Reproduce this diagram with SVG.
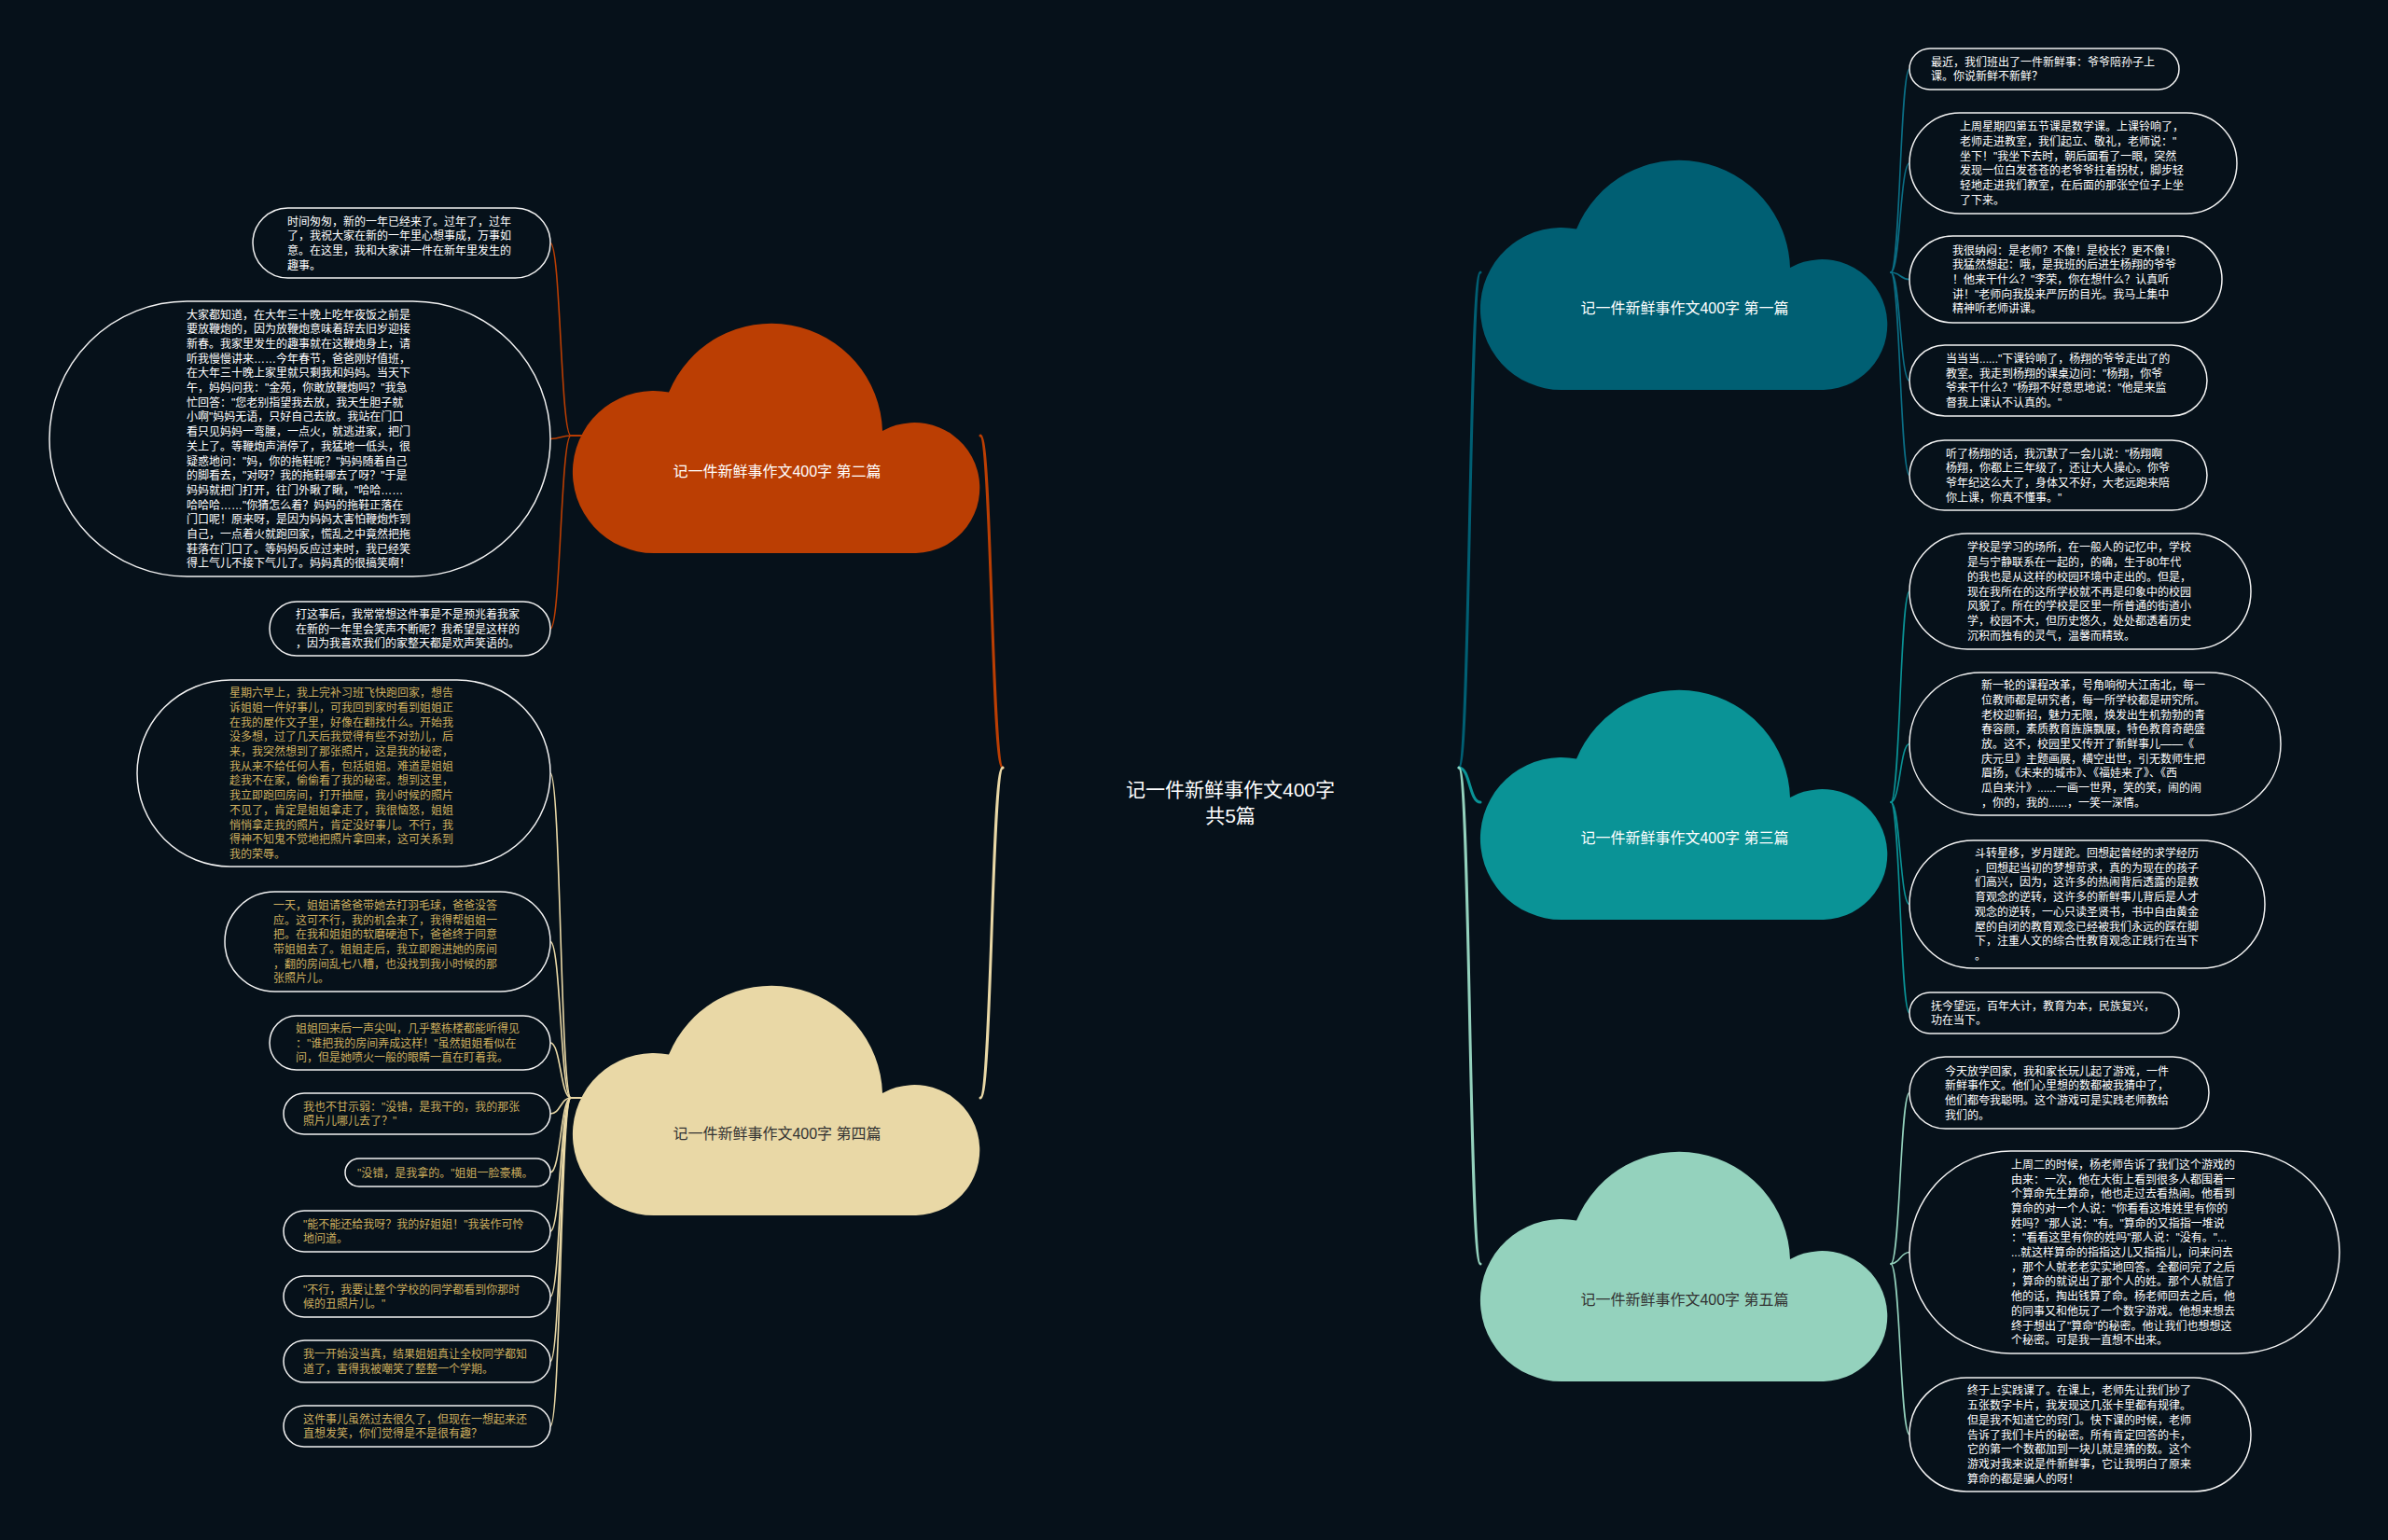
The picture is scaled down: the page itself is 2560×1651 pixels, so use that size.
<svg xmlns="http://www.w3.org/2000/svg" xmlns:xlink="http://www.w3.org/1999/xlink" width="2560" height="1651" viewBox="0 0 2560 1651">
<style>
.bx{fill:#06111a;stroke:#f2f2f2;stroke-width:1.5}
.t{font-family:"Liberation Sans","Noto Sans CJK SC",sans-serif;font-size:12px;fill:#ffffff}
.g{fill:#cdae5e}
.cl{font-family:"Liberation Sans","Noto Sans CJK SC",sans-serif;font-size:16px;text-anchor:middle}
.trunk{fill:none;stroke-width:3;stroke-linecap:round}
.br{fill:none;stroke-width:1.6;stroke-linecap:round}
</style>
<defs>
<path id="cloud" d="M87,250 A87,87 0 1 1 103,77.5 A119,119 0 0 1 332,119 A70,70 0 1 1 368,250 Z"/>
</defs>
<rect width="2560" height="1651" fill="#06111a"/>

<g id="connectors">
<path class="trunk" stroke="#BB3E03" d="M1075,823 C1063,823 1063,467 1051,467"/>
<path class="trunk" stroke="#E9D8A6" d="M1075,823 C1063,823 1063,1177 1051,1177"/>
<path class="trunk" stroke="#005F73" d="M1564,823 C1576,823 1575,292 1587,292"/>
<path class="trunk" stroke="#0A9396" d="M1564,823 C1576,823 1575,860 1587,860"/>
<path class="trunk" stroke="#94D2BD" d="M1564,823 C1576,823 1575,1355 1587,1355"/>
<g stroke="#BB3E03">
<path class="br" d="M624,467 L612,467 C601,467 601,260.5 590,260.5"/>
<path class="br" d="M624,467 L612,467 C601,467 601,470.5 590,470.5"/>
<path class="br" d="M624,467 L612,467 C601,467 601,674 590,674"/>
</g>
<g stroke="#E9D8A6">
<path class="br" d="M624,1177 L612,1177 C601,1177 601,829 590,829"/>
<path class="br" d="M624,1177 L612,1177 C601,1177 601,1009.5 590,1009.5"/>
<path class="br" d="M624,1177 L612,1177 C601,1177 601,1118 590,1118"/>
<path class="br" d="M624,1177 L612,1177 C601,1177 601,1194 590,1194"/>
<path class="br" d="M624,1177 L612,1177 C601,1177 601,1257 590,1257"/>
<path class="br" d="M624,1177 L612,1177 C601,1177 601,1320 590,1320"/>
<path class="br" d="M624,1177 L612,1177 C601,1177 601,1390 590,1390"/>
<path class="br" d="M624,1177 L612,1177 C601,1177 601,1459.5 590,1459.5"/>
<path class="br" d="M624,1177 L612,1177 C601,1177 601,1529 590,1529"/>
</g>
<g stroke="#0B6F86">
<path class="br" d="M2027,292 C2037,292 2037,74 2047,74"/>
<path class="br" d="M2027,292 C2037,292 2037,175 2047,175"/>
<path class="br" d="M2027,292 C2037,292 2037,299.5 2047,299.5"/>
<path class="br" d="M2027,292 C2037,292 2037,408 2047,408"/>
<path class="br" d="M2027,292 C2037,292 2037,509.5 2047,509.5"/>
</g>
<g stroke="#0A9396">
<path class="br" d="M2027,860 C2037,860 2037,634 2047,634"/>
<path class="br" d="M2027,860 C2037,860 2037,797.5 2047,797.5"/>
<path class="br" d="M2027,860 C2037,860 2037,969.5 2047,969.5"/>
<path class="br" d="M2027,860 C2037,860 2037,1086 2047,1086"/>
</g>
<g stroke="#94D2BD">
<path class="br" d="M2027,1355 C2037,1355 2037,1171.5 2047,1171.5"/>
<path class="br" d="M2027,1355 C2037,1355 2037,1342.5 2047,1342.5"/>
<path class="br" d="M2027,1355 C2037,1355 2037,1538 2047,1538"/>
</g>
</g>

<g id="root">
<text font-family="&quot;Liberation Sans&quot;,&quot;Noto Sans CJK SC&quot;,sans-serif" font-size="21" fill="#ffffff" text-anchor="middle"><tspan x="1319" y="854">记一件新鲜事作文400字</tspan><tspan x="1319" y="882">共5篇</tspan></text>
</g>

<g id="cloud1"><use xlink:href="#cloud" x="1587" y="168" fill="#005F73"/><text class="cl" x="1806" y="336" fill="#ffffff">记一件新鲜事作文400字 第一篇</text></g>
<g id="cloud2"><use xlink:href="#cloud" x="614" y="343" fill="#BB3E03"/><text class="cl" x="833" y="511" fill="#ffffff">记一件新鲜事作文400字 第二篇</text></g>
<g id="cloud3"><use xlink:href="#cloud" x="1587" y="736" fill="#0A9396"/><text class="cl" x="1806" y="904" fill="#ffffff">记一件新鲜事作文400字 第三篇</text></g>
<g id="cloud4"><use xlink:href="#cloud" x="614" y="1053" fill="#E9D8A6"/><text class="cl" x="833" y="1221" fill="#333333">记一件新鲜事作文400字 第四篇</text></g>
<g id="cloud5"><use xlink:href="#cloud" x="1587" y="1231" fill="#94D2BD"/><text class="cl" x="1806" y="1399" fill="#333333">记一件新鲜事作文400字 第五篇</text></g>

<g id="b2-1"><rect class="bx" x="271" y="223" width="319" height="75" rx="37.5"/>
<text class="t" x="308" y="241.5"><tspan x="308">时间匆匆，新的一年已经来了。过年了，过年</tspan><tspan x="308" dy="15.7">了，我祝大家在新的一年里心想事成，万事如</tspan><tspan x="308" dy="15.7">意。在这里，我和大家讲一件在新年里发生的</tspan><tspan x="308" dy="15.7">趣事。</tspan></text></g>

<g id="b2-2"><rect class="bx" x="53" y="323" width="537" height="295" rx="147.5"/>
<text class="t" x="200" y="341.5"><tspan x="200">大家都知道，在大年三十晚上吃年夜饭之前是</tspan><tspan x="200" dy="15.7">要放鞭炮的，因为放鞭炮意味着辞去旧岁迎接</tspan><tspan x="200" dy="15.7">新春。我家里发生的趣事就在这鞭炮身上，请</tspan><tspan x="200" dy="15.7">听我慢慢讲来……今年春节，爸爸刚好值班，</tspan><tspan x="200" dy="15.7">在大年三十晚上家里就只剩我和妈妈。当天下</tspan><tspan x="200" dy="15.7">午，妈妈问我："金苑，你敢放鞭炮吗？"我急</tspan><tspan x="200" dy="15.7">忙回答："您老别指望我去放，我天生胆子就</tspan><tspan x="200" dy="15.7">小啊"妈妈无语，只好自己去放。我站在门口</tspan><tspan x="200" dy="15.7">看只见妈妈一弯腰，一点火，就逃进家，把门</tspan><tspan x="200" dy="15.7">关上了。等鞭炮声消停了，我猛地一低头，很</tspan><tspan x="200" dy="15.7">疑惑地问："妈，你的拖鞋呢？"妈妈随着自己</tspan><tspan x="200" dy="15.7">的脚看去，"对呀？我的拖鞋哪去了呀？"于是</tspan><tspan x="200" dy="15.7">妈妈就把门打开，往门外瞅了瞅，"哈哈……</tspan><tspan x="200" dy="15.7">哈哈哈……"你猜怎么着？妈妈的拖鞋正落在</tspan><tspan x="200" dy="15.7">门口呢！原来呀，是因为妈妈太害怕鞭炮炸到</tspan><tspan x="200" dy="15.7">自己，一点着火就跑回家，慌乱之中竟然把拖</tspan><tspan x="200" dy="15.7">鞋落在门口了。等妈妈反应过来时，我已经笑</tspan><tspan x="200" dy="15.7">得上气儿不接下气儿了。妈妈真的很搞笑啊！</tspan></text></g>

<g id="b2-3"><rect class="bx" x="289" y="645" width="301" height="58" rx="29"/>
<text class="t" x="317" y="662.8"><tspan x="317">打这事后，我常常想这件事是不是预兆着我家</tspan><tspan x="317" dy="15.7">在新的一年里会笑声不断呢？我希望是这样的</tspan><tspan x="317" dy="15.7">，因为我喜欢我们的家整天都是欢声笑语的。</tspan></text></g>

<g id="b4-1"><rect class="bx" x="147" y="729" width="443" height="200" rx="100"/>
<text class="t g" x="246" y="747.2"><tspan x="246">星期六早上，我上完补习班飞快跑回家，想告</tspan><tspan x="246" dy="15.7">诉姐姐一件好事儿，可我回到家时看到姐姐正</tspan><tspan x="246" dy="15.7">在我的屋作文子里，好像在翻找什么。开始我</tspan><tspan x="246" dy="15.7">没多想，过了几天后我觉得有些不对劲儿，后</tspan><tspan x="246" dy="15.7">来，我突然想到了那张照片，这是我的秘密，</tspan><tspan x="246" dy="15.7">我从来不给任何人看，包括姐姐。难道是姐姐</tspan><tspan x="246" dy="15.7">趁我不在家，偷偷看了我的秘密。想到这里，</tspan><tspan x="246" dy="15.7">我立即跑回房间，打开抽屉，我小时候的照片</tspan><tspan x="246" dy="15.7">不见了，肯定是姐姐拿走了，我很恼怒，姐姐</tspan><tspan x="246" dy="15.7">悄悄拿走我的照片，肯定没好事儿。不行，我</tspan><tspan x="246" dy="15.7">得神不知鬼不觉地把照片拿回来，这可关系到</tspan><tspan x="246" dy="15.7">我的荣辱。</tspan></text></g>

<g id="b4-2"><rect class="bx" x="241" y="956" width="349" height="107" rx="53.5"/>
<text class="t g" x="293" y="974.8"><tspan x="293">一天，姐姐请爸爸带她去打羽毛球，爸爸没答</tspan><tspan x="293" dy="15.7">应。这可不行，我的机会来了，我得帮姐姐一</tspan><tspan x="293" dy="15.7">把。在我和姐姐的软磨硬泡下，爸爸终于同意</tspan><tspan x="293" dy="15.7">带姐姐去了。姐姐走后，我立即跑进她的房间</tspan><tspan x="293" dy="15.7">，翻的房间乱七八糟，也没找到我小时候的那</tspan><tspan x="293" dy="15.7">张照片儿。</tspan></text></g>

<g id="b4-3"><rect class="bx" x="289" y="1089" width="301" height="58" rx="29"/>
<text class="t g" x="317" y="1106.8"><tspan x="317">姐姐回来后一声尖叫，几乎整栋楼都能听得见</tspan><tspan x="317" dy="15.7">："谁把我的房间弄成这样！"虽然姐姐看似在</tspan><tspan x="317" dy="15.7">问，但是她喷火一般的眼睛一直在盯着我。</tspan></text></g>

<g id="b4-4"><rect class="bx" x="304" y="1172" width="286" height="44" rx="22"/>
<text class="t g" x="325" y="1190.7"><tspan x="325">我也不甘示弱："没错，是我干的，我的那张</tspan><tspan x="325" dy="15.7">照片儿哪儿去了？"</tspan></text></g>

<g id="b4-5"><rect class="bx" x="370" y="1242" width="220" height="30" rx="15"/>
<text class="t g" x="383" y="1261.5">"没错，是我拿的。"姐姐一脸豪横。</text></g>

<g id="b4-6"><rect class="bx" x="304" y="1298" width="286" height="44" rx="22"/>
<text class="t g" x="325" y="1316.7"><tspan x="325">"能不能还给我呀？我的好姐姐！"我装作可怜</tspan><tspan x="325" dy="15.7">地问道。</tspan></text></g>

<g id="b4-7"><rect class="bx" x="304" y="1368" width="286" height="44" rx="22"/>
<text class="t g" x="325" y="1386.7"><tspan x="325">"不行，我要让整个学校的同学都看到你那时</tspan><tspan x="325" dy="15.7">候的丑照片儿。"</tspan></text></g>

<g id="b4-8"><rect class="bx" x="304" y="1437" width="286" height="45" rx="22.5"/>
<text class="t g" x="325" y="1456.2"><tspan x="325">我一开始没当真，结果姐姐真让全校同学都知</tspan><tspan x="325" dy="15.7">道了，害得我被嘲笑了整整一个学期。</tspan></text></g>

<g id="b4-9"><rect class="bx" x="304" y="1507" width="286" height="44" rx="22"/>
<text class="t g" x="325" y="1525.7"><tspan x="325">这件事儿虽然过去很久了，但现在一想起来还</tspan><tspan x="325" dy="15.7">直想发笑，你们觉得是不是很有趣？</tspan></text></g>

<g id="r1-1"><rect class="bx" x="2047" y="52" width="289" height="44" rx="22"/>
<text class="t" x="2070" y="70.7"><tspan x="2070">最近，我们班出了一件新鲜事：爷爷陪孙子上</tspan><tspan x="2070" dy="15.7">课。你说新鲜不新鲜？</tspan></text></g>

<g id="r1-2"><rect class="bx" x="2047" y="121" width="351" height="108" rx="54"/>
<text class="t" x="2101" y="140.3"><tspan x="2101">上周星期四第五节课是数学课。上课铃响了，</tspan><tspan x="2101" dy="15.7">老师走进教室，我们起立、敬礼，老师说："</tspan><tspan x="2101" dy="15.7">坐下！"我坐下去时，朝后面看了一眼，突然</tspan><tspan x="2101" dy="15.7">发现一位白发苍苍的老爷爷拄着拐杖，脚步轻</tspan><tspan x="2101" dy="15.7">轻地走进我们教室，在后面的那张空位子上坐</tspan><tspan x="2101" dy="15.7">了下来。</tspan></text></g>

<g id="r1-3"><rect class="bx" x="2047" y="253" width="335" height="93" rx="46.5"/>
<text class="t" x="2093" y="272.6"><tspan x="2093">我很纳闷：是老师？不像！是校长？更不像！</tspan><tspan x="2093" dy="15.7">我猛然想起：哦，是我班的后进生杨翔的爷爷</tspan><tspan x="2093" dy="15.7">！他来干什么？"李荣，你在想什么？认真听</tspan><tspan x="2093" dy="15.7">讲！"老师向我投来严厉的目光。我马上集中</tspan><tspan x="2093" dy="15.7">精神听老师讲课。</tspan></text></g>

<g id="r1-4"><rect class="bx" x="2047" y="370" width="319" height="76" rx="38"/>
<text class="t" x="2086" y="389"><tspan x="2086">当当当......"下课铃响了，杨翔的爷爷走出了的</tspan><tspan x="2086" dy="15.7">教室。我走到杨翔的课桌边问："杨翔，你爷</tspan><tspan x="2086" dy="15.7">爷来干什么？"杨翔不好意思地说："他是来监</tspan><tspan x="2086" dy="15.7">督我上课认不认真的。"</tspan></text></g>

<g id="r1-5"><rect class="bx" x="2047" y="472" width="319" height="75" rx="37.5"/>
<text class="t" x="2086" y="490.5"><tspan x="2086">听了杨翔的话，我沉默了一会儿说："杨翔啊</tspan><tspan x="2086" dy="15.7">杨翔，你都上三年级了，还让大人操心。你爷</tspan><tspan x="2086" dy="15.7">爷年纪这么大了，身体又不好，大老远跑来陪</tspan><tspan x="2086" dy="15.7">你上课，你真不懂事。"</tspan></text></g>

<g id="r3-1"><rect class="bx" x="2047" y="572" width="366" height="124" rx="62"/>
<text class="t" x="2109" y="591.4"><tspan x="2109">学校是学习的场所，在一般人的记忆中，学校</tspan><tspan x="2109" dy="15.7">是与宁静联系在一起的，的确，生于80年代</tspan><tspan x="2109" dy="15.7">的我也是从这样的校园环境中走出的。但是，</tspan><tspan x="2109" dy="15.7">现在我所在的这所学校就不再是印象中的校园</tspan><tspan x="2109" dy="15.7">风貌了。所在的学校是区里一所普通的街道小</tspan><tspan x="2109" dy="15.7">学，校园不大，但历史悠久，处处都透着历史</tspan><tspan x="2109" dy="15.7">沉积而独有的灵气，温馨而精致。</tspan></text></g>

<g id="r3-2"><rect class="bx" x="2047" y="721" width="398" height="153" rx="76.5"/>
<text class="t" x="2124" y="739.2"><tspan x="2124">新一轮的课程改革，号角响彻大江南北，每一</tspan><tspan x="2124" dy="15.7">位教师都是研究者，每一所学校都是研究所。</tspan><tspan x="2124" dy="15.7">老校迎新招，魅力无限，焕发出生机勃勃的青</tspan><tspan x="2124" dy="15.7">春容颜，素质教育旌旗飘展，特色教育奇葩盛</tspan><tspan x="2124" dy="15.7">放。这不，校园里又传开了新鲜事儿——《</tspan><tspan x="2124" dy="15.7">庆元旦》主题画展，横空出世，引无数师生把</tspan><tspan x="2124" dy="15.7">眉扬，《未来的城市》、《福娃来了》、《西</tspan><tspan x="2124" dy="15.7">瓜自来汁》......一画一世界，笑的笑，闹的闹</tspan><tspan x="2124" dy="15.7">，你的，我的......，一笑一深情。</tspan></text></g>

<g id="r3-3"><rect class="bx" x="2047" y="901" width="381" height="137" rx="68.5"/>
<text class="t" x="2117" y="919"><tspan x="2117">斗转星移，岁月蹉跎。回想起曾经的求学经历</tspan><tspan x="2117" dy="15.7">，回想起当初的梦想苛求，真的为现在的孩子</tspan><tspan x="2117" dy="15.7">们高兴，因为，这许多的热闹背后透露的是教</tspan><tspan x="2117" dy="15.7">育观念的逆转，这许多的新鲜事儿背后是人才</tspan><tspan x="2117" dy="15.7">观念的逆转，一心只读圣贤书，书中自由黄金</tspan><tspan x="2117" dy="15.7">屋的自闭的教育观念已经被我们永远的踩在脚</tspan><tspan x="2117" dy="15.7">下，注重人文的综合性教育观念正践行在当下</tspan><tspan x="2117" dy="15.7">。</tspan></text></g>

<g id="r3-4"><rect class="bx" x="2047" y="1064" width="289" height="44" rx="22"/>
<text class="t" x="2070" y="1082.7"><tspan x="2070">抚今望远，百年大计，教育为本，民族复兴，</tspan><tspan x="2070" dy="15.7">功在当下。</tspan></text></g>

<g id="r5-1"><rect class="bx" x="2047" y="1133" width="321" height="77" rx="38.5"/>
<text class="t" x="2085" y="1152.5"><tspan x="2085">今天放学回家，我和家长玩儿起了游戏，一件</tspan><tspan x="2085" dy="15.7">新鲜事作文。他们心里想的数都被我猜中了，</tspan><tspan x="2085" dy="15.7">他们都夸我聪明。这个游戏可是实践老师教给</tspan><tspan x="2085" dy="15.7">我们的。</tspan></text></g>

<g id="r5-2"><rect class="bx" x="2047" y="1234" width="461" height="217" rx="108.5"/>
<text class="t" x="2156" y="1252.8"><tspan x="2156">上周二的时候，杨老师告诉了我们这个游戏的</tspan><tspan x="2156" dy="15.7">由来：一次，他在大街上看到很多人都围着一</tspan><tspan x="2156" dy="15.7">个算命先生算命，他也走过去看热闹。他看到</tspan><tspan x="2156" dy="15.7">算命的对一个人说："你看看这堆姓里有你的</tspan><tspan x="2156" dy="15.7">姓吗？"那人说："有。"算命的又指指一堆说</tspan><tspan x="2156" dy="15.7">："看看这里有你的姓吗"那人说："没有。"...</tspan><tspan x="2156" dy="15.7">...就这样算命的指指这儿又指指儿，问来问去</tspan><tspan x="2156" dy="15.7">，那个人就老老实实地回答。全都问完了之后</tspan><tspan x="2156" dy="15.7">，算命的就说出了那个人的姓。那个人就信了</tspan><tspan x="2156" dy="15.7">他的话，掏出钱算了命。杨老师回去之后，他</tspan><tspan x="2156" dy="15.7">的同事又和他玩了一个数字游戏。他想来想去</tspan><tspan x="2156" dy="15.7">终于想出了"算命"的秘密。他让我们也想想这</tspan><tspan x="2156" dy="15.7">个秘密。可是我一直想不出来。</tspan></text></g>

<g id="r5-3"><rect class="bx" x="2047" y="1477" width="366" height="122" rx="61"/>
<text class="t" x="2109" y="1495.4"><tspan x="2109">终于上实践课了。在课上，老师先让我们抄了</tspan><tspan x="2109" dy="15.7">五张数字卡片，我发现这几张卡里都有规律。</tspan><tspan x="2109" dy="15.7">但是我不知道它的窍门。快下课的时候，老师</tspan><tspan x="2109" dy="15.7">告诉了我们卡片的秘密。所有肯定回答的卡，</tspan><tspan x="2109" dy="15.7">它的第一个数都加到一块儿就是猜的数。这个</tspan><tspan x="2109" dy="15.7">游戏对我来说是件新鲜事，它让我明白了原来</tspan><tspan x="2109" dy="15.7">算命的都是骗人的呀！</tspan></text></g>
</svg>
